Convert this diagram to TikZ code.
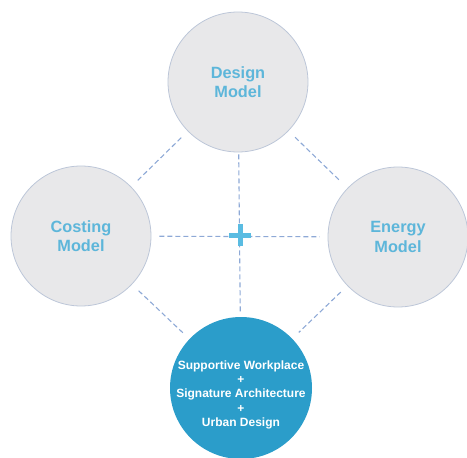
\documentclass[tikz,border=0pt]{standalone}
\usepackage{fontspec}
\setmainfont{Liberation Sans}
\definecolor{greyfill}{HTML}{E8E8EA}
\definecolor{greyline}{HTML}{BCC6D8}
\definecolor{labelblue}{HTML}{5DB6DA}
\definecolor{mainblue}{HTML}{2B9DCA}
\definecolor{dashblue}{HTML}{8EA9D6}
\definecolor{plusblue}{HTML}{5ABCE2}
\begin{document}
\begin{tikzpicture}[x=1pt,y=-1pt,
  model/.style={circle, minimum size=140pt, inner sep=0pt, fill=greyfill, draw=greyline, line width=0.8pt,
    text=labelblue, font=\fontsize{16.3}{19.5}\selectfont\bfseries, align=center},
  core/.style={circle, minimum size=142pt, inner sep=-16pt, fill=mainblue, draw=none,
    text=white, font=\fontsize{12}{14.2}\selectfont\bfseries, align=center},
  link/.style={draw=dashblue, line width=1.1pt, dash pattern=on 5pt off 3pt}]
\useasboundingbox (0,0) rectangle (467,458);
\node[model] (design) at (238,82) {Design\\Model};
\node[model] (cost) at (81,236) {Costing\\Model};
\node[model] (energy) at (398,237) {Energy\\Model};
\node[core] (core) at (241,388) {\mbox{}\\[8pt]Supportive Workplace\\+\\Signature Architecture\\+\\Urban Design};
\coordinate (plus) at (240,235);
\draw[link, shorten <=8pt, shorten >=8pt] (cost) -- (energy);
\draw[link, shorten <=2pt, shorten >=4pt] (design) -- (core);
\draw[link, shorten <=9pt, shorten >=9pt] (cost) -- (design);
\draw[link, shorten <=9pt, shorten >=9pt] (design) -- (energy);
\draw[link, shorten <=9pt, shorten >=9pt] (energy) -- (core);
\draw[link, shorten <=9pt, shorten >=9pt] (core) -- (cost);
\draw[plusblue, line width=5pt] ([xshift=-11pt]plus) -- ([xshift=11pt]plus);
\draw[plusblue, line width=5pt] ([yshift=-11pt]plus) -- ([yshift=11pt]plus);
\end{tikzpicture}
\end{document}
